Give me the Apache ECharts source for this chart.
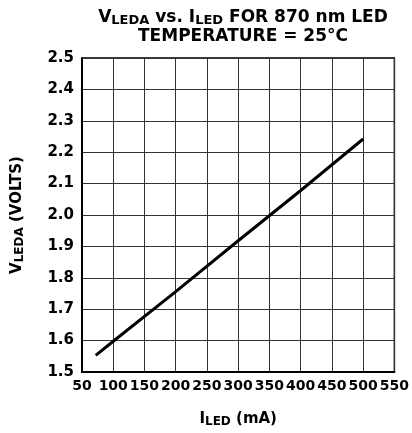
<!DOCTYPE html>
<html><head><meta charset="utf-8">
<script src="https://cdn.jsdelivr.net/npm/echarts@6/dist/echarts.min.js"></script>
<style>html,body{margin:0;padding:0;background:#fff}#c{width:412px;height:433px}</style>
</head><body><div id="c"></div>
<script>
const currentMA = [72, 100, 200, 300, 400, 500];
const voltsV = [1.553, 1.598, 1.756, 1.918, 2.078, 2.242];
const xTicks = [50, 100, 150, 200, 250, 300, 350, 400, 450, 500, 550];
const yTicks = [1.5, 1.6, 1.7, 1.8, 1.9, 2.0, 2.1, 2.2, 2.3, 2.4, 2.5];

const FONT = 'DejaVu Sans';
const chart = echarts.init(document.getElementById('c'));
chart.setOption({
  animation: false,
  title: {
    text: '{v|V}{s|LEDA}{v| vs. I}{s|LED}{v| FOR 870 nm LED}\n{v|TEMPERATURE = 25°C}',
    left: 238, top: 3, textAlign: 'center',
    textStyle: {
      rich: {
        v: {fontFamily: FONT, fontWeight: 'bold', fontSize: 17, color: '#000', lineHeight: 19},
        s: {fontFamily: FONT, fontWeight: 'bold', fontSize: 13, color: '#000', lineHeight: 19, padding: [7, 0, 0, 0], verticalAlign: 'bottom'}
      }
    }
  },
  grid: {left: 81, right: 15, top: 58, bottom: 60, show: true, borderColor: '#000', borderWidth: 1.5},
  xAxis: {
    type: 'value', min: 50, max: 550, interval: 50,
    name: '{v|I}{s|LED}{v| (mA)}', nameLocation: 'middle', nameGap: 38,
    nameTextStyle: {
      rich: {
        v: {fontFamily: FONT, fontWeight: 'bold', fontSize: 15, color: '#000', lineHeight: 18},
        s: {fontFamily: FONT, fontWeight: 'bold', fontSize: 12, color: '#000', lineHeight: 18, padding: [6, 0, 0, 0], verticalAlign: 'bottom'}
      }
    },
    axisLine: {show: true, lineStyle: {color: '#000', width: 2}},
    axisTick: {show: false},
    axisLabel: {fontFamily: FONT, fontWeight: 'bold', fontSize: 14, color: '#000', margin: 7,
      formatter: v => xTicks.includes(v) ? String(v) : ''},
    splitLine: {show: true, lineStyle: {color: '#333', width: 1}}
  },
  yAxis: {
    type: 'value', min: 1.5, max: 2.5, interval: 0.1,
    name: '{v|V}{s|LEDA}{v| (VOLTS)}', nameLocation: 'middle', nameGap: 56, nameRotate: 90,
    nameTextStyle: {
      rich: {
        v: {fontFamily: FONT, fontWeight: 'bold', fontSize: 15, color: '#000', lineHeight: 18},
        s: {fontFamily: FONT, fontWeight: 'bold', fontSize: 12, color: '#000', lineHeight: 18, padding: [6, 0, 0, 0], verticalAlign: 'bottom'}
      }
    },
    axisLine: {show: true, lineStyle: {color: '#000', width: 2}},
    axisTick: {show: false},
    axisLabel: {fontFamily: FONT, fontWeight: 'bold', fontSize: 15, color: '#000', margin: 8,
      formatter: v => { const t = yTicks.find(y => Math.abs(y - v) < 1e-6); return t === undefined ? '' : t.toFixed(1); }},
    splitLine: {show: true, lineStyle: {color: '#333', width: 1}}
  },
  series: [{
    type: 'line', data: currentMA.map((x, i) => [x, voltsV[i]]),
    showSymbol: false, symbol: 'none',
    lineStyle: {color: '#000', width: 3}
  }]
});
</script></body></html>
